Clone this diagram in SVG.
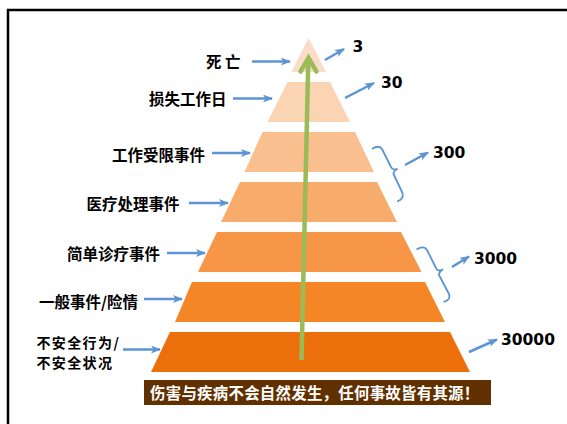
<svg xmlns="http://www.w3.org/2000/svg" width="567" height="424" viewBox="0 0 567 424">
<defs>
<marker id="bh" markerWidth="10" markerHeight="8" refX="9" refY="4" orient="auto" markerUnits="userSpaceOnUse">
<path d="M0,0 L10,4 L0,8 L2.5,4 z" fill="#5B95D5"/>
</marker>
<style>
.lbl{font-family:"Noto Sans CJK SC","Liberation Sans",sans-serif;font-weight:bold;font-size:15.5px;fill:#000}
.num{font-family:"DejaVu Sans",sans-serif;font-weight:bold;font-size:15.5px;fill:#000}
.ba{stroke:#5B95D5;stroke-width:2.5;fill:none;marker-end:url(#bh)}
.br{stroke:#5B95D5;stroke-width:1.8;fill:none;stroke-linejoin:round}
</style>
</defs>
<rect width="567" height="424" fill="#fff"/>
<path d="M8,424 L8,10 L567,10" fill="none" stroke="#000" stroke-width="2.5"/>
<g id="layers">
<polygon id="layer1" points="308.5,38 326,72 291.5,72" fill="#FBDCC6"/>
<polygon id="layer2" points="287.5,82 330,82 350,122 267.5,122" fill="#FBD4B4"/>
<polygon id="layer3" points="262.5,132 355,132 374,172 244.5,172" fill="#FABF8F"/>
<polygon id="layer4" points="240,182 377,182 397,222 221,222" fill="#F8AC6C"/>
<polygon id="layer5" points="217,232 401,232 421.5,272 198,272" fill="#F79646"/>
<polygon id="layer6" points="192,282 425,282 445,322 175,322" fill="#F58626"/>
<polygon id="layer7" points="170,332 450,332 470,372 151,372" fill="#EB700C"/>
</g>
<g id="labels">
<text class="lbl" x="206" y="67.5">死 亡</text>
<text class="lbl" x="149" y="105">损失工作日</text>
<text class="lbl" x="112" y="160.5">工作受限事件</text>
<text class="lbl" x="86.5" y="209.5">医疗处理事件</text>
<text class="lbl" x="67" y="259.5">简单诊疗事件</text>
<text class="lbl" x="39" y="307.5">一般事件/险情</text>
<text class="lbl" x="36.4" y="347.5" style="font-size:14px;letter-spacing:1.4px">不安全行为/</text>
<text class="lbl" x="36.4" y="368" style="font-size:14px;letter-spacing:1.4px">不安全状况</text>
</g>
<g id="numbers">
<text class="num" x="352.5" y="51.5">3</text>
<text class="num" x="381" y="87.5">30</text>
<text class="num" x="433" y="157.5">300</text>
<text class="num" x="474" y="263.5">3000</text>
<text class="num" x="501" y="345">30000</text>
</g>
<g id="connectors">
<line class="ba" x1="252" y1="61.5" x2="290" y2="61.5"/>
<line class="ba" x1="233" y1="98.5" x2="272" y2="98.5"/>
<line class="ba" x1="212" y1="153" x2="250" y2="153"/>
<line class="ba" x1="189" y1="203" x2="228" y2="203"/>
<line class="ba" x1="167" y1="253" x2="205" y2="253"/>
<line class="ba" x1="144" y1="299" x2="182" y2="299"/>
<line class="ba" x1="123" y1="349.5" x2="160" y2="349.5"/>
<line class="ba" x1="325" y1="60" x2="344" y2="49"/>
<line class="ba" x1="345" y1="98" x2="374" y2="83"/>
<line class="ba" x1="405" y1="165" x2="428" y2="152.5"/>
<line class="ba" x1="452" y1="267" x2="469" y2="256.5"/>
<line class="ba" x1="469" y1="352" x2="497" y2="339.5"/>
<path class="br" d="M372,149 Q379,144.5 382,149 L391,167 Q392.5,170.5 397,169 Q393,172 393.5,174 L402.5,193 Q404,199 397,201.5"/>
<path class="br" d="M416.5,249.5 Q424,245 427,250 L436,268 Q437.5,272 442.5,269.5 Q438.5,273 439,275 L449,294 Q451,300 443.5,302"/>
<line x1="301.5" y1="360" x2="308.3" y2="60" stroke="#9BBB59" stroke-width="4.5"/>
<polyline points="300.5,71.5 308.5,58 316.5,71.5" fill="none" stroke="#9BBB59" stroke-width="4.5" stroke-linejoin="miter" stroke-linecap="round"/>
</g>
<g id="banner">
<rect x="144" y="380" width="347" height="25" fill="#603000"/>
<text class="lbl" x="150" y="399" style="fill:#fff;font-size:15.4px;letter-spacing:0.3px">伤害与疾病不会自然发生，任何事故皆有其源！</text>
</g>
</svg>
